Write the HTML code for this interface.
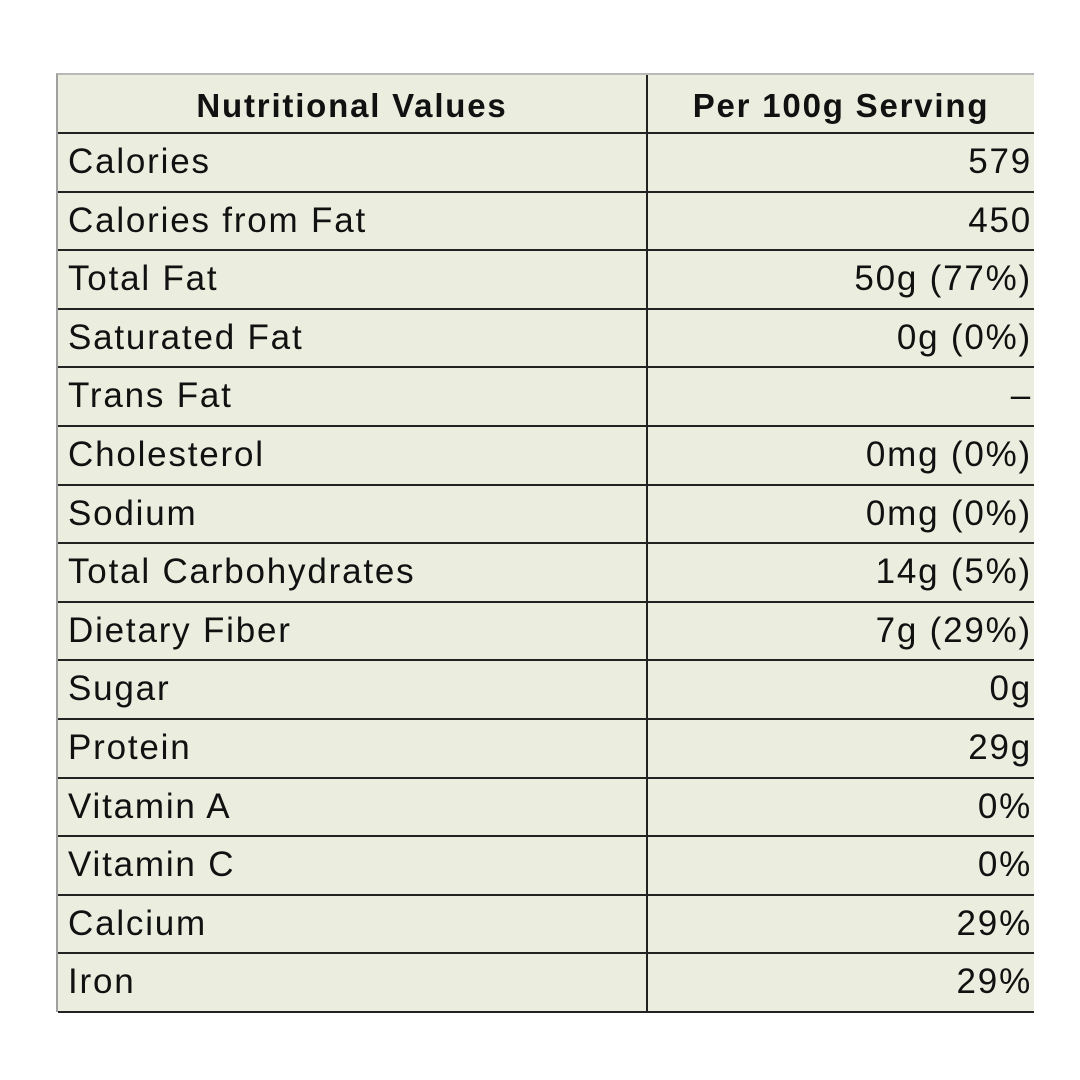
<!DOCTYPE html>
<html><head><meta charset="utf-8">
<style>
body{margin:0;width:1080px;height:1080px;background:#fff;position:relative;overflow:hidden;font-family:"Liberation Sans",sans-serif;color:#111;}
#tbl{position:absolute;left:56px;top:73px;width:978px;height:939px;background:#ebeedf;border-left:2px solid #a0a0a0;border-top:2px solid #b8b8b8;box-sizing:border-box;}
.row{position:absolute;left:0;width:976px;border-bottom:2px solid #222;box-sizing:border-box;}
.c1{position:absolute;left:10px;top:0;font-size:35px;letter-spacing:1.8px;white-space:nowrap;}
.c2{position:absolute;right:2px;top:0;font-size:35px;letter-spacing:1.8px;white-space:nowrap;text-align:right;}
.hdr{font-weight:bold;font-size:33px;letter-spacing:1.8px;}
#vline{position:absolute;left:588px;top:0;width:2px;height:937px;background:#222;}
</style></head><body>
<div id="tbl">
<div id="vline"></div>
</div>
<script>
const labels=["Calories","Calories from Fat","Total Fat","Saturated Fat","Trans Fat","Cholesterol","Sodium","Total Carbohydrates","Dietary Fiber","Sugar","Protein","Vitamin A","Vitamin C","Calcium","Iron"];
const values=["579","450","50g (77%)","0g (0%)","\u2013","0mg (0%)","0mg (0%)","14g (5%)","7g (29%)","0g","29g","0%","0%","29%","29%"];
const tbl=document.getElementById('tbl');
const hdrH=59, rowH=58.6;
const h=document.createElement('div');


h.className='row';h.style.top='0px';h.style.height=hdrH+'px';
h.innerHTML='<div class="hdr" style="position:absolute;left:0;width:588px;text-align:center;top:12px">Nutritional Values</div><div class="hdr" style="position:absolute;left:590px;width:386px;text-align:center;top:12px">Per 100g Serving</div>';
tbl.appendChild(h);
labels.forEach((l,i)=>{
  const r=document.createElement('div');
  
  
  r.className='row';
  const top=hdrH+i*rowH;
  r.style.top=(top-2)+'px';r.style.height=(rowH+2)+'px';
  const a=document.createElement('div');
  
  
  a.className='c1';a.style.top='10px';a.textContent=l;
  const b=document.createElement('div');
  
  
  b.className='c2';b.style.top='10px';b.textContent=values[i];
  r.appendChild(a);r.appendChild(b);tbl.appendChild(r);
});
</script>
</body></html>
